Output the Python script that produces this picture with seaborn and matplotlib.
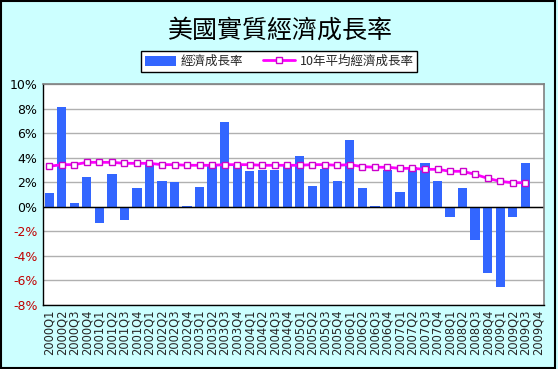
import numpy as np
import pandas as pd
import matplotlib
matplotlib.use("Agg")
import matplotlib.pyplot as plt
import seaborn as sns
from matplotlib.ticker import FuncFormatter

quarters = [f"{y}Q{q}" for y in range(2000, 2010) for q in range(1, 5)]
growth = [1.1, 8.1, 0.3, 2.4, -1.3, 2.7, -1.1, 1.5, 3.5, 2.1, 2.0, 0.1,
          1.6, 3.3, 6.9, 3.5, 2.9, 3.0, 3.0, 3.5, 4.1, 1.7, 3.1, 2.1,
          5.4, 1.5, 0.1, 3.0, 1.2, 3.2, 3.6, 2.1, -0.8, 1.5, -2.7, -5.4,
          -6.5, -0.8, 3.6, np.nan]
avg10 = [3.30, 3.43, 3.43, 3.62, 3.62, 3.62, 3.54, 3.54, 3.54, 3.43, 3.43, 3.38,
         3.38, 3.38, 3.43, 3.43, 3.43, 3.38, 3.38, 3.38, 3.38, 3.43, 3.43, 3.38,
         3.43, 3.27, 3.22, 3.22, 3.13, 3.13, 3.05, 3.05, 2.89, 2.89, 2.64, 2.32,
         2.07, 1.96, 1.96, np.nan]
yticks = list(range(-8, 11, 2))

title = "美國實質經濟成長率"
bar_label = "經濟成長率"
line_label = "10年平均經濟成長率"

sns.set_theme(style="white")
plt.rcParams['font.family'] = ['DejaVu Sans', 'Noto Sans CJK TC']

df = pd.DataFrame({"quarter": quarters, "growth": growth, "avg": avg10,
                   "pos": np.arange(len(quarters))})

bg = "#CCFFFF"
fig = plt.figure(figsize=(5.58, 3.69), dpi=100, facecolor=bg)
ax = fig.add_axes([43/558, 1-305/369, (544-43)/558, (305-84)/369])
ax.set_facecolor("white")

sns.barplot(data=df, x="quarter", y="growth", order=quarters, color="#3366FF",
            saturation=1, width=0.74, linewidth=0, ax=ax, label=bar_label, zorder=2)
sns.lineplot(data=df.dropna(), x="pos", y="avg", color="#FF00FF", lw=2,
             marker="s", markersize=5, markerfacecolor="white",
             markeredgecolor="#CC00CC", markeredgewidth=1.0, ax=ax,
             label=line_label, zorder=3)

ax.set_xlim(-0.5, len(quarters) - 0.5)
ax.set_ylim(-8, 10)
ax.set_yticks(yticks)
ax.yaxis.set_major_formatter(FuncFormatter(lambda v, p: f"{int(v)}%"))
ax.grid(axis="y", color="#B0B0B0", lw=1, zorder=0)
ax.set_axisbelow(True)
ax.axhline(0, color="black", lw=1, zorder=2.5)
ax.set_xlabel("")
ax.set_ylabel("")
ax.tick_params(axis="x", labelrotation=90, labelsize=8.3, pad=3, length=0)
ax.tick_params(axis="y", labelsize=9, pad=4, length=0)
for v, lbl in zip(yticks, ax.get_yticklabels()):
    lbl.set_color("#C00000" if v < 0 else "black")

for s in ["top", "right"]:
    ax.spines[s].set_color("#808080")
    ax.spines[s].set_linewidth(1.2)
for s in ["left", "bottom"]:
    ax.spines[s].set_color("black")
    ax.spines[s].set_linewidth(1.0)

if ax.legend_:
    ax.legend_.remove()
h, l = ax.get_legend_handles_labels()
order = [l.index(bar_label), l.index(line_label)]
h = [h[i] for i in order]
l = [l[i] for i in order]
leg = fig.legend(h, l, loc="center", bbox_to_anchor=(279/558, 1-61.5/369), ncol=2,
                 frameon=True, fancybox=False, edgecolor="black", framealpha=1,
                 handlelength=2.5, handleheight=0.9, columnspacing=1.6,
                 borderpad=0.3, handletextpad=0.4,
                 prop={"family": ["Noto Sans CJK TC", "DejaVu Sans"], "size": 9})
leg.get_frame().set_linewidth(1.0)

fig.text(280/558, 1-31/369, title, ha="center", va="center", fontsize=18,
         family=["Noto Sans CJK TC", "DejaVu Sans"], color="black")

border = plt.Rectangle((0.001, 0.002), 0.994, 0.994, transform=fig.transFigure,
                       fill=False, edgecolor="black", lw=1.5)
fig.patches.append(border)

fig.savefig("out.png", dpi=100, facecolor=bg)
